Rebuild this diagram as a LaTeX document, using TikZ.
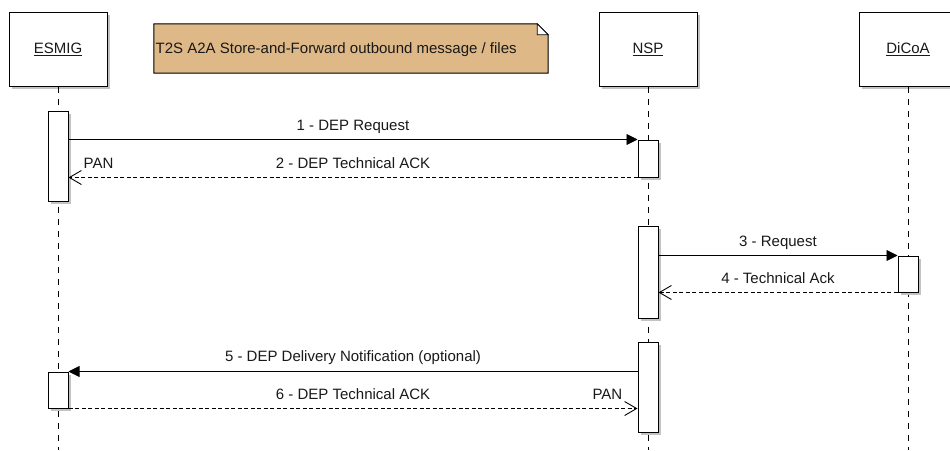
\documentclass[tikz,border=0pt]{standalone}
\usepackage{fontspec}
\setmainfont{Liberation Sans}
\usetikzlibrary{arrows.meta,shadows,calc}
\definecolor{notefill}{RGB}{222,184,135}
\definecolor{shadowgray}{RGB}{195,195,195}
\definecolor{txt}{RGB}{25,25,25}
\begin{document}
\begin{tikzpicture}[x=1pt,y=-1pt,
  font=\fontsize{15}{18}\selectfont,
  shad/.style={drop shadow={shadow xshift=3pt, shadow yshift=-3pt, opacity=1, fill=shadowgray}},
  head/.style={draw=black, line width=1pt, fill=white, minimum width=98pt, minimum height=74pt, inner sep=0pt, text=txt, shad},
  act/.style={draw=black, line width=1pt, fill=white, minimum width=20pt, inner sep=0pt, shad},
  life/.style={draw=black, line width=0.8pt, dash pattern=on 6pt off 6pt},
  sync/.style={draw=black, line width=0.9pt, -{Triangle[length=11pt,width=11pt]}},
  reply/.style={draw=black, line width=0.9pt, dash pattern=on 4pt off 2.5pt, -{Straight Barb[length=12pt,width=14pt]}},
  lbl/.style={anchor=base, yshift=9pt, text=txt, inner sep=0pt},
]
\useasboundingbox (0,0) rectangle (950,450);
\fill[white] (0,0) rectangle (950,450);

% heads
\node[head] (esmig) at (58,49) {\underline{ESMIG}};
\node[head] (nsp) at (648,49) {\underline{NSP}};
\node[head] (dicoa) at (908,49) {\underline{DiCoA}};

% note
\node[minimum width=394pt, minimum height=49pt, inner xsep=2pt, inner ysep=0pt, text width=390pt, align=left] (note) at (351,48.5) {};
\fill[shadowgray, shift={(3,3)}] (note.north west) -- ($(note.north east)+(-11,0)$) -- ($(note.north east)+(0,11)$) -- (note.south east) -- (note.south west) -- cycle;
\filldraw[fill=notefill, draw=black, line width=1pt] (note.north west) -- ($(note.north east)+(-11,0)$) -- ($(note.north east)+(0,11)$) -- (note.south east) -- (note.south west) -- cycle;
\filldraw[fill=white, draw=black, line width=0.8pt] ($(note.north east)+(-11,0)$) -- ($(note.north east)+(-11,11)$) -- ($(note.north east)+(0,11)$) -- cycle;
\node[anchor=west, inner sep=0pt, text=txt] (notetext) at (155.5,50) {T2S A2A Store-and-Forward outbound message / files};

% lifelines
\coordinate (esmigend) at (58,450);
\coordinate (nspend) at (648,450);
\coordinate (dicoaend) at (908,450);
\draw[life] (esmig.south) -- (esmigend);
\draw[life] (nsp.south) -- (nspend);
\draw[life] (dicoa.south) -- (dicoaend);

% activations
\node[act, minimum height=90pt] (e1) at (58,156) {};
\node[act, minimum height=37pt] (n1) at (648,158.5) {};
\node[act, minimum height=92pt] (n2) at (648,272) {};
\node[act, minimum height=36pt] (d1) at (908,274) {};
\node[act, minimum height=90pt] (n3) at (648,387) {};
\node[act, minimum height=36pt] (e2) at (58,390) {};

% messages
\draw[sync] (e1.east |- n1.north) -- node[lbl] {1 - DEP Request} (n1.north west);
\draw[reply] (n1.south west) -- node[lbl] {2 - DEP Technical ACK} (e1.east |- n1.south);
\node[lbl, anchor=base west, xshift=15pt] (pan1) at (e1.east |- n1.south) {PAN};

\draw[sync] (n2.east |- d1.north) -- node[lbl] {3 - Request} (d1.north west);
\draw[reply] (d1.south west) -- node[lbl] {4 - Technical Ack} (n2.east |- d1.south);

\draw[sync] (n3.west |- e2.north) -- node[lbl, yshift=1pt] {5 - DEP Delivery Notification (optional)} (e2.north east);
\draw[reply] (e2.south east) -- node[lbl] {6 - DEP Technical ACK} (n3.west |- e2.south);
\node[lbl, anchor=base east, xshift=-15pt] (pan2) at (n3.west |- e2.south) {PAN};
\end{tikzpicture}
\end{document}
